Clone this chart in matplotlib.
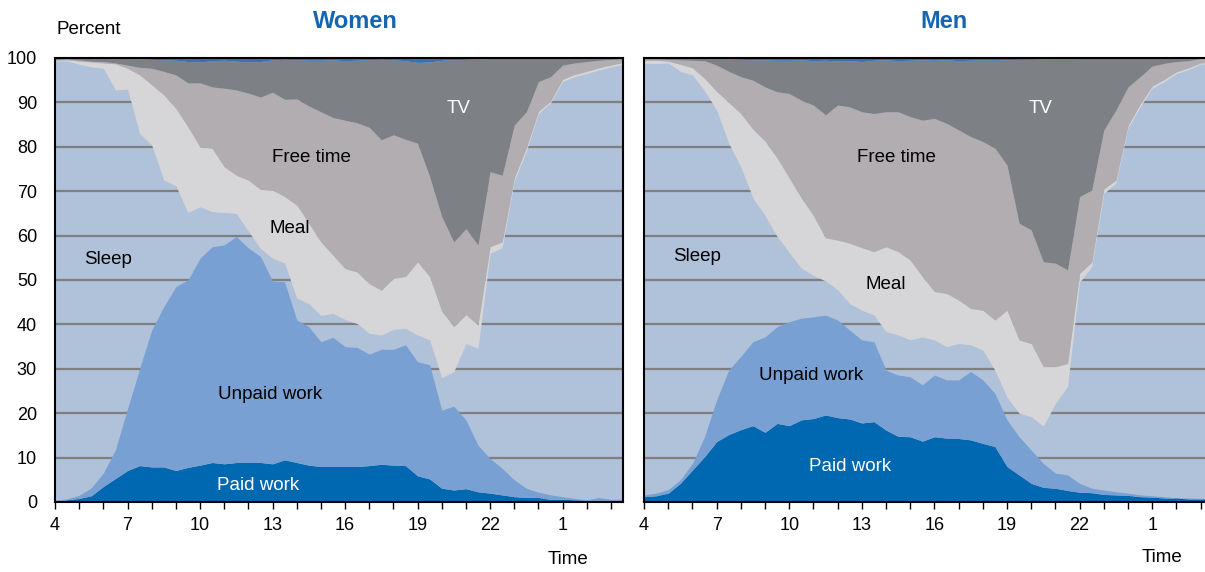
import numpy as np
import matplotlib
matplotlib.use("Agg")
import matplotlib.pyplot as plt

plt.rcParams['font.family'] = ['Liberation Sans', 'DejaVu Sans']

# half-hour slots from 4:00 to 3:30 next morning
hours = np.arange(4.0, 28.0, 0.5)

# cumulative shares (percent): top edge of each layer
women_paid_top = [0.2, 0.5, 0.8, 1.4, 3.5, 5.3, 7.1, 8.2, 7.9, 7.9, 7.1, 7.8, 8.3, 8.9, 8.6, 8.9,
                  8.9, 8.9, 8.6, 9.5, 8.9, 8.3, 8.0, 8.0, 8.0, 8.0, 8.2, 8.5, 8.3, 8.2, 5.9, 5.2,
                  3.1, 2.7, 3.0, 2.3, 2.0, 1.6, 1.2, 1.0, 1.0, 0.6, 0.6, 0.5, 0.4, 0.4, 0.4, 0.3]
women_unpaid_top = [0.4, 0.7, 1.5, 3.2, 6.5, 11.8, 21.0, 30.0, 38.7, 44.0, 48.5, 50.0, 54.9, 57.5, 57.9, 59.8,
                    57.2, 55.3, 49.8, 49.6, 41.0, 39.5, 36.1, 37.1, 35.0, 34.8, 33.3, 34.4, 34.4, 35.4, 31.6, 30.9,
                    20.7, 21.6, 18.5, 12.8, 9.8, 7.6, 5.0, 3.1, 2.2, 1.6, 1.2, 0.8, 0.5, 1.0, 0.6, 0.6]
women_sleep_top = [99.3, 99.3, 98.6, 98.0, 97.7, 92.8, 93.0, 83.0, 80.4, 72.5, 71.2, 65.2, 66.5, 65.4, 65.2, 65.0,
                   61.0, 57.1, 54.9, 53.8, 45.9, 44.7, 42.0, 42.5, 41.1, 40.2, 38.0, 37.6, 38.9, 39.1, 37.6, 36.5,
                   28.0, 29.4, 35.7, 34.6, 56.0, 57.3, 72.3, 79.0, 87.5, 89.9, 94.7, 95.8, 96.5, 97.3, 98.0, 98.6]
women_meal_top = [99.5, 99.6, 99.3, 99.1, 98.9, 98.7, 97.7, 96.2, 94.0, 91.7, 88.7, 84.5, 80.0, 79.7, 75.5, 73.6,
                  72.5, 70.4, 70.3, 68.8, 66.9, 62.8, 58.6, 55.6, 52.6, 51.8, 49.2, 47.7, 50.4, 50.8, 54.1, 50.8,
                  43.0, 39.5, 42.2, 39.9, 57.5, 58.6, 73.0, 79.8, 88.0, 90.3, 95.2, 96.3, 97.0, 97.8, 98.4, 99.0]
women_free_top = [99.7, 99.8, 99.6, 99.3, 99.2, 98.9, 98.4, 97.9, 97.7, 97.0, 96.2, 94.4, 94.4, 93.5, 93.2, 92.8,
                  92.1, 91.2, 92.3, 90.7, 90.8, 89.2, 87.9, 86.6, 86.0, 85.4, 84.4, 81.6, 82.7, 81.7, 80.8, 73.3,
                  64.3, 58.6, 61.6, 57.9, 74.4, 73.6, 84.9, 87.9, 94.7, 95.8, 98.4, 98.9, 99.2, 99.5, 99.7, 99.8]
women_tv_top = [100, 100, 100, 100, 100, 100, 99.9, 99.8, 99.7, 99.6, 99.5, 99.2, 99.1, 99.4, 99.5, 99.3,
                99.1, 99.2, 99.6, 99.7, 99.6, 99.5, 99.5, 99.6, 99.4, 99.5, 99.6, 99.7, 99.6, 99.4, 99.0, 99.1,
                99.5, 99.6, 99.7, 99.8, 99.9, 100, 100, 100, 100, 100, 100, 100, 100, 100, 100, 100]

men_paid_top = [1.2, 1.4, 2.0, 4.2, 7.2, 10.2, 13.6, 15.2, 16.3, 17.2, 15.7, 17.7, 17.2, 18.5, 18.8, 19.6,
                19.0, 18.7, 17.8, 18.1, 16.2, 14.8, 14.7, 13.7, 14.7, 14.4, 14.3, 14.0, 13.2, 12.5, 8.0, 6.1,
                4.2, 3.3, 3.1, 2.6, 2.2, 2.1, 1.7, 1.6, 1.5, 1.2, 1.1, 0.9, 0.9, 0.7, 0.7, 0.7]
men_unpaid_top = [1.6, 2.0, 2.8, 5.0, 8.7, 14.7, 23.0, 29.7, 32.8, 36.1, 37.2, 39.5, 40.6, 41.4, 41.7, 42.1,
                  41.0, 38.7, 36.5, 36.1, 29.7, 28.6, 28.2, 26.4, 28.6, 27.5, 27.5, 29.4, 27.5, 24.5, 18.5, 14.7,
                  11.7, 8.7, 6.5, 6.1, 4.2, 3.1, 2.7, 2.3, 2.0, 1.6, 1.4, 1.2, 0.9, 0.9, 0.8, 0.8]
men_sleep_top = [98.8, 98.7, 98.9, 97.0, 96.2, 92.6, 88.3, 80.8, 75.5, 68.5, 64.5, 59.8, 56.2, 52.7, 51.0, 49.8,
                 47.8, 44.7, 43.2, 42.1, 38.4, 37.6, 36.5, 37.2, 36.5, 35.0, 35.7, 35.4, 34.2, 29.7, 23.6, 20.0,
                 19.2, 17.1, 22.2, 26.0, 49.5, 53.0, 69.5, 71.8, 84.2, 89.0, 93.2, 94.7, 96.5, 97.4, 98.6, 98.8]
men_meal_top = [99.4, 99.5, 99.3, 98.6, 97.8, 95.4, 92.5, 90.0, 87.5, 84.0, 81.3, 77.5, 73.0, 68.5, 64.5, 59.5,
                59.0, 58.3, 57.3, 56.4, 57.5, 56.4, 54.5, 50.8, 47.4, 47.0, 45.5, 43.6, 43.2, 41.0, 43.2, 36.5,
                35.7, 30.5, 30.5, 31.2, 51.5, 54.0, 70.5, 72.5, 84.8, 89.6, 93.7, 95.2, 96.9, 97.8, 98.9, 99.0]
men_free_top = [99.8, 99.8, 99.7, 99.6, 99.5, 99.4, 98.4, 97.0, 95.8, 95.0, 93.5, 92.4, 92.0, 90.5, 89.4, 87.2,
                89.4, 89.0, 87.9, 87.5, 87.9, 87.9, 86.8, 86.0, 86.4, 85.3, 83.8, 82.3, 81.2, 79.7, 75.9, 62.8,
                61.3, 54.1, 53.8, 52.3, 68.8, 70.3, 83.8, 88.3, 93.5, 95.8, 98.2, 98.8, 99.2, 99.4, 99.9, 99.9]
men_tv_top = [100, 100, 100, 100, 100, 100, 100, 99.8, 99.7, 99.6, 99.6, 99.5, 99.5, 99.6, 99.4, 99.5,
              99.3, 99.4, 99.2, 99.5, 99.6, 99.4, 99.5, 99.6, 99.5, 99.6, 99.4, 99.5, 99.6, 99.5, 99.6, 99.7,
              99.7, 99.8, 99.8, 99.8, 99.9, 99.9, 100, 100, 100, 100, 100, 100, 100, 100, 100, 100]

# colours
c_paid = '#0067b1'
c_unpaid = '#79a0d2'
c_sleep = '#b0c1da'   # plot background shows through as sleep
c_meal = '#d6d5d7'
c_free = '#b1adb0'
c_tv = '#7d8084'
c_other = '#3d6fb5'
c_title = '#1565b0'

fig = plt.figure(figsize=(12.05, 5.72), dpi=100)
ax_w = fig.add_axes([55 / 1205, 1 - 502 / 572, 568 / 1205, 444 / 572])
ax_m = fig.add_axes([644 / 1205, 1 - 502 / 572, 561 / 1205, 444 / 572])


def draw_panel(ax, paid, unpaid, sleep, meal, free, tv, xmax):
    ax.set_facecolor(c_sleep)
    ax.set_axisbelow(True)
    zero = np.zeros(len(hours))
    ax.fill_between(hours, zero, paid, color=c_paid, lw=0, zorder=2)
    ax.fill_between(hours, paid, unpaid, color=c_unpaid, lw=0, zorder=2)
    ax.fill_between(hours, sleep, meal, color=c_meal, lw=0, zorder=2)
    ax.fill_between(hours, meal, free, color=c_free, lw=0, zorder=2)
    ax.fill_between(hours, free, tv, color=c_tv, lw=0, zorder=2)
    ax.fill_between(hours, tv, 100, color=c_other, lw=0, zorder=2)
    ax.set_xlim(4, xmax)
    ax.set_ylim(0, 100)
    ax.set_yticks(np.arange(0, 101, 10))
    ax.yaxis.grid(True, color='#7f7f7f', lw=1.6)
    ax.set_xticks(np.arange(4, 28, 1))
    ax.set_xticklabels([str(h % 24) if (h - 4) % 3 == 0 else '' for h in range(4, 28)])
    ax.tick_params(axis='x', direction='out', length=5, width=1, pad=6, labelsize=13)
    ax.tick_params(axis='y', length=0, pad=13, labelsize=13)
    for s in ax.spines.values():
        s.set_linewidth(1.5)
        s.set_color('black')
        s.set_zorder(3)


draw_panel(ax_w, women_paid_top, women_unpaid_top, women_sleep_top, women_meal_top,
           women_free_top, women_tv_top, 27.5)
draw_panel(ax_m, men_paid_top, men_unpaid_top, men_sleep_top, men_meal_top,
           men_free_top, men_tv_top, 4 + 561 / 24.2)
ax_m.set_yticklabels([])
ax_m.spines['right'].set_visible(False)

# in-area labels
lab = dict(fontsize=13.5, ha='center', va='center', zorder=5)
ax_w.text(20.7, 88.7, 'TV', color='white', **lab)
ax_w.text(14.6, 77.7, 'Free time', color='black', **lab)
ax_w.text(13.7, 61.5, 'Meal', color='black', **lab)
ax_w.text(6.2, 54.7, 'Sleep', color='black', **lab)
ax_w.text(12.9, 24.3, 'Unpaid work', color='black', **lab)
ax_w.text(12.4, 3.8, 'Paid work', color='white', **lab)

ax_m.text(20.4, 88.7, 'TV', color='white', **lab)
ax_m.text(14.45, 77.5, 'Free time', color='black', **lab)
ax_m.text(14.0, 48.9, 'Meal', color='black', **lab)
ax_m.text(6.2, 55.4, 'Sleep', color='black', **lab)
ax_m.text(10.9, 28.6, 'Unpaid work', color='black', **lab)
ax_m.text(12.5, 7.9, 'Paid work', color='white', **lab)

fig.text(355 / 1205, 1 - 22 / 572, 'Women', color=c_title, fontsize=17, fontweight='bold',
         ha='center', va='center')
fig.text(944 / 1205, 1 - 22 / 572, 'Men', color=c_title, fontsize=17, fontweight='bold',
         ha='center', va='center')
fig.text(89 / 1205, 1 - 30 / 572, 'Percent', fontsize=13.5, ha='center', va='center')
fig.text(568 / 1205, 1 - 560 / 572, 'Time', fontsize=13.5, ha='center', va='center')
fig.text(1162 / 1205, 1 - 558 / 572, 'Time', fontsize=13.5, ha='center', va='center')

fig.savefig('out.png', dpi=100)
